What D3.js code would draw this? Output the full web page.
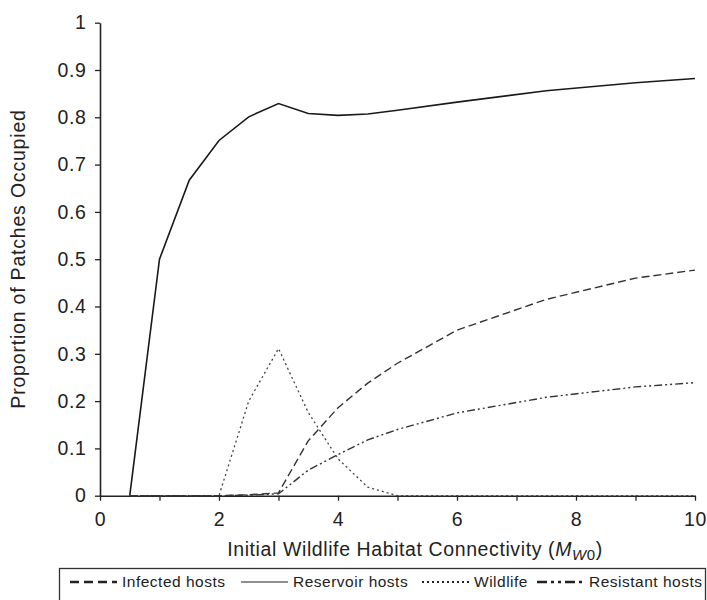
<!DOCTYPE html>
<html>
<head>
<meta charset="utf-8">
<script src="https://cdn.jsdelivr.net/npm/d3@7"></script>
<style>
  body { margin: 0; background: #fff; }
  svg { font-family: "Liberation Sans", Arial, sans-serif; }
</style>
</head>
<body>
<div id="chart"></div>
<script>
'use strict';

const width = 707;
const height = 600;

// connectivity values (x)
const connectivity = [0.5, 1, 1.5, 2, 2.5, 3, 3.5, 4, 4.5, 5, 6, 7.5, 9, 10];

// proportion of patches occupied, one array per series
const infected  = [0, 0, 0, 0, 0.002, 0.006, 0.116, 0.186, 0.238, 0.28, 0.35, 0.415, 0.46, 0.477];
const reservoir = [0, 0.5, 0.667, 0.751, 0.801, 0.829, 0.808, 0.804, 0.807, 0.815, 0.832, 0.856, 0.873, 0.882];
const wildlife  = [0, 0, 0, 0, 0.2, 0.311, 0.176, 0.078, 0.018, 0, 0, 0, 0, 0];
const resistant = [0, 0, 0, 0, 0.001, 0.004, 0.054, 0.087, 0.118, 0.14, 0.175, 0.208, 0.23, 0.239];

const xTicks = [0, 1, 2, 3, 4, 5, 6, 7, 8, 9, 10];
const xLabels = [0, 2, 4, 6, 8, 10];
const yTicks = [0, 0.1, 0.2, 0.3, 0.4, 0.5, 0.6, 0.7, 0.8, 0.9, 1];

const seriesNames = ['Infected hosts', 'Reservoir hosts', 'Wildlife', 'Resistant hosts'];

const ink = '#222';

const x = d3.scaleLinear().domain([0, 10]).range([100, 695]);
const y = d3.scaleLinear().domain([0, 1]).range([495.7, 22.7]);

const svg = d3.select('#chart').append('svg')
    .attr('width', width)
    .attr('height', height);

// y axis
const yAxis = svg.append('g')
    .attr('transform', 'translate(' + x(0) + ',0)')
    .call(d3.axisLeft(y).tickValues(yTicks).tickSize(5).tickSizeOuter(0)
        .tickFormat(d => d3.format('~g')(d)).tickPadding(8.5));

yAxis.select('.domain').attr('stroke', ink).attr('stroke-width', 1.6);
yAxis.selectAll('.tick line').attr('stroke', ink).attr('stroke-width', 1.3);
yAxis.selectAll('.tick text')
    .attr('fill', ink)
    .style('font-size', '19.5px')
    .style('letter-spacing', '0.6px')
    .style('font-family', '"Liberation Sans", Arial, sans-serif');

// x axis
const xAxis = svg.append('g')
    .attr('transform', 'translate(0,' + y(0) + ')')
    .call(d3.axisBottom(x).tickValues(xTicks).tickSize(5).tickSizeOuter(0)
        .tickFormat(d => xLabels.includes(d) ? d : '').tickPadding(11.5));

xAxis.select('.domain').attr('stroke', ink).attr('stroke-width', 1.6);
xAxis.selectAll('.tick line').attr('stroke', ink).attr('stroke-width', 1.3);
xAxis.selectAll('.tick text')
    .attr('fill', ink)
    .style('font-size', '19.5px')
    .style('letter-spacing', '0.6px')
    .style('font-family', '"Liberation Sans", Arial, sans-serif');

// axis titles
const xTitle = svg.append('text')
    .attr('x', 415)
    .attr('y', 556)
    .attr('text-anchor', 'middle')
    .attr('fill', ink)
    .style('font-size', '19.5px')
    .style('letter-spacing', '0.6px');
xTitle.append('tspan').text('Initial Wildlife Habitat Connectivity (');
xTitle.append('tspan').attr('font-style', 'italic').text('M');
xTitle.append('tspan').attr('font-style', 'italic').attr('dy', 4).style('font-size', '15px').text('W');
xTitle.append('tspan').style('font-size', '15px').text('0');
xTitle.append('tspan').attr('dy', -4).text(')');

svg.append('text')
    .attr('transform', 'translate(25,' + 259 + ') rotate(-90)')
    .attr('text-anchor', 'middle')
    .attr('fill', ink)
    .style('font-size', '19.5px')
    .style('letter-spacing', '0.8px')
    .text('Proportion of Patches Occupied');

// lines
const styles = [
    { values: infected,  dash: '8,4',           color: '#333', w: 1.4 },
    { values: reservoir, dash: null,            color: '#1a1a1a', w: 1.6 },
    { values: wildlife,  dash: '2,3',           color: '#444', w: 1.3 },
    { values: resistant, dash: '8,3,2,3,2,3',   color: '#333', w: 1.4 }
];

const line = d3.line()
    .x(d => x(d[0]))
    .y(d => y(d[1]));

styles.forEach(s => {
    svg.append('path')
        .datum(connectivity.map((c, i) => [c, s.values[i]]))
        .attr('fill', 'none')
        .attr('stroke', s.color)
        .attr('stroke-width', s.w)
        .attr('stroke-dasharray', s.dash)
        .attr('d', line);
});

// legend
const legend = svg.append('g');
legend.append('rect')
    .attr('x', 59.5)
    .attr('y', 568.5)
    .attr('width', 646)
    .attr('height', 40)
    .attr('fill', 'none')
    .attr('stroke', '#333')
    .attr('stroke-width', 1.3);

const legendDash = ['9,5', null, '2,3', '10,4,3,4,3,4'];
const sampleX = [70, 241, 422, 537];
const legendY = 587;

seriesNames.forEach((name, i) => {
    legend.append('line')
        .attr('x1', sampleX[i])
        .attr('x2', sampleX[i] + 47)
        .attr('y1', legendY - 5)
        .attr('y2', legendY - 5)
        .attr('stroke', '#222')
        .attr('stroke-width', i === 1 ? 1.2 : (i === 2 ? 2.2 : 2.6))
        .attr('stroke-dasharray', legendDash[i]);
    legend.append('text')
        .attr('x', sampleX[i] + 52)
        .attr('y', legendY)
        .attr('fill', ink)
        .style('font-size', '15.5px')
        .style('letter-spacing', '0.5px')
        .text(name);
});
</script>
</body>
</html>
